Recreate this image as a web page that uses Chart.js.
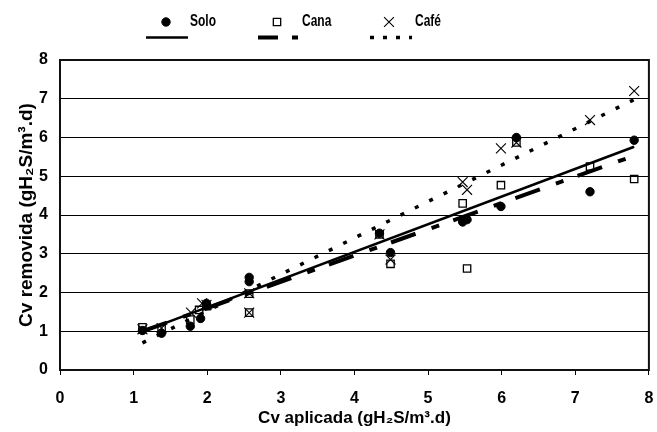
<!DOCTYPE html>
<html>
<head>
<meta charset="utf-8">
<script src="https://cdn.jsdelivr.net/npm/chart.js@4"></script>
<style>
html, body { margin: 0; padding: 0; background: #fff; }
</style>
</head>
<body>
<canvas id="chart" width="657" height="432"></canvas>
<script>
// Cv aplicada (x) vs Cv removida (y) for each medium
const soloX = [1.12, 1.38, 1.77, 1.91, 1.99, 2.57, 2.57, 4.34, 4.49, 5.47, 5.53, 5.99, 6.2, 7.2, 7.8];
const soloY = [1.02, 0.95, 1.13, 1.33, 1.72, 2.39, 2.28, 3.53, 3.03, 3.82, 3.88, 4.22, 6.0, 4.6, 5.93];
const canaX = [1.12, 1.38, 1.77, 1.89, 1.99, 2.57, 2.57, 4.34, 4.49, 5.47, 5.53, 5.99, 6.2, 7.2, 7.8];
const canaY = [1.1, 1.05, 1.3, 1.55, 1.65, 1.97, 1.48, 3.5, 2.74, 4.3, 2.62, 4.77, 5.87, 5.25, 4.93];
const cafeX = [1.12, 1.38, 1.78, 1.93, 1.99, 2.57, 2.57, 4.34, 4.49, 5.47, 5.53, 5.99, 6.2, 7.2, 7.8];
const cafeY = [1.05, 1.08, 1.48, 1.72, 1.68, 1.98, 1.48, 3.5, 2.85, 4.85, 4.65, 5.72, 5.87, 6.45, 7.2];

// linear trend lines (end points)
const trendX = [1.12, 7.8];
const trendSolo = [0.99, 5.76];
const trendCana = [1.0, 5.53];
const trendCafe = [0.70, 6.98];

const seriesNames = ['Solo', 'Cana', 'Café'];

function pts(xs, ys) {
    return xs.map((x, i) => ({ x: x, y: ys[i] }));
}

const FONT = '"Liberation Sans", Arial, sans-serif';

const frame = {
    id: 'frame',
    afterDatasetsDraw(chart) {
        const { ctx, chartArea: a } = chart;
        ctx.save();
        ctx.strokeStyle = '#111';
        ctx.lineWidth = 2;
        ctx.strokeRect(a.left, a.top, a.right - a.left, a.bottom - a.top);
        ctx.restore();
    }
};

// legend: marker + name above, line style below
const topLegend = {
    id: 'topLegend',
    afterDraw(chart) {
        const ctx = chart.ctx;
        const items = [
            { mx: 166, tx: 190, l1: 146, l2: 188, pt: 0, ln: 3 },
            { mx: 277, tx: 302, l1: 258, l2: 298, pt: 1, ln: 4 },
            { mx: 389, tx: 415, l1: 370, l2: 412, pt: 2, ln: 5 }
        ];
        ctx.save();
        items.forEach((it, i) => {
            const pd = chart.data.datasets[it.pt];
            ctx.fillStyle = pd.backgroundColor;
            ctx.strokeStyle = pd.borderColor;
            ctx.lineWidth = pd.borderWidth;
            Chart.helpers.drawPoint(ctx, {
                pointStyle: pd.pointStyle,
                radius: pd.pointRadius,
                borderWidth: pd.borderWidth
            }, it.mx, 22);

            ctx.fillStyle = '#000';
            ctx.font = 'bold 12px ' + FONT;
            ctx.textBaseline = 'middle';
            ctx.textAlign = 'left';
            ctx.save();
            ctx.translate(it.tx, 22);
            ctx.scale(1, 1.35);
            ctx.fillText(seriesNames[i], 0, 0);
            ctx.restore();

            const ld = chart.data.datasets[it.ln];
            ctx.strokeStyle = '#000';
            ctx.beginPath();
            ctx.lineWidth = ld.borderWidth;
            ctx.setLineDash(ld.legendDash || []);
            ctx.moveTo(it.l1, 37.5);
            ctx.lineTo(it.l2, 37.5);
            ctx.stroke();
            ctx.setLineDash([]);
        });
        ctx.restore();
    }
};

new Chart(document.getElementById('chart'), {
    type: 'scatter',
    data: {
        datasets: [
            {
                label: 'Solo',
                data: pts(soloX, soloY),
                pointStyle: 'circle',
                pointRadius: 4.2,
                backgroundColor: '#000',
                borderColor: '#000',
                borderWidth: 1,
                order: 5
            },
            {
                label: 'Cana',
                data: pts(canaX, canaY),
                pointStyle: 'rect',
                pointRadius: 5.2,
                backgroundColor: 'rgba(255,255,255,0)',
                borderColor: '#000',
                borderWidth: 1.3,
                order: 4
            },
            {
                label: 'Café',
                data: pts(cafeX, cafeY),
                pointStyle: 'crossRot',
                pointRadius: 7,
                backgroundColor: '#000',
                borderColor: '#000',
                borderWidth: 1.1,
                order: 6
            },
            {
                label: 'Solo trend',
                type: 'line',
                data: pts(trendX, trendSolo),
                borderColor: '#000',
                borderWidth: 2.6,
                pointRadius: 0,
                order: 1
            },
            {
                label: 'Cana trend',
                type: 'line',
                data: pts(trendX, trendCana),
                borderColor: '#000',
                borderWidth: 4,
                borderDash: [26, 17, 8, 15],
                legendDash: [20, 14, 6, 14],
                pointRadius: 0,
                order: 2
            },
            {
                label: 'Café trend',
                type: 'line',
                data: pts(trendX, trendCafe),
                borderColor: '#000',
                borderWidth: 3.5,
                borderDash: [4, 12],
                legendDash: [4, 9],
                pointRadius: 0,
                order: 3
            }
        ]
    },
    options: {
        responsive: false,
        animation: false,
        devicePixelRatio: 1,
        layout: { padding: { top: 60, right: 7, left: 0, bottom: 0 } },
        plugins: {
            legend: { display: false },
            tooltip: { enabled: false }
        },
        scales: {
            x: {
                type: 'linear',
                min: 0,
                max: 8,
                afterFit(scale) {
                    scale.height = 62;
                    scale.paddingLeft = 0;
                    scale.paddingRight = 0;
                },
                ticks: {
                    stepSize: 1,
                    color: '#000',
                    padding: 14,
                    font: { family: FONT, size: 16, weight: 'bold' }
                },
                grid: {
                    drawOnChartArea: false,
                    drawTicks: true,
                    tickLength: 5,
                    color: '#000'
                },
                border: { color: '#111', width: 2 },
                title: {
                    display: true,
                    text: 'Cv aplicada (gH₂S/m³.d)',
                    color: '#000',
                    font: { family: FONT, size: 17, weight: 'bold' },
                    padding: { top: 0, bottom: 3 }
                }
            },
            y: {
                min: 0,
                max: 8,
                afterFit(scale) { scale.width = 60; },
                ticks: {
                    stepSize: 1,
                    color: '#000',
                    padding: 12,
                    font: { family: FONT, size: 16, weight: 'bold' }
                },
                grid: {
                    drawTicks: false,
                    color: '#000',
                    lineWidth: 1
                },
                border: { color: '#111', width: 2 },
                title: {
                    display: true,
                    text: 'Cv removida (gH₂S/m³.d)',
                    color: '#000',
                    font: { family: FONT, size: 19, weight: 'bold' },
                    padding: { top: 15, bottom: 0 }
                }
            }
        }
    },
    plugins: [frame, topLegend]
});
</script>
</body>
</html>
